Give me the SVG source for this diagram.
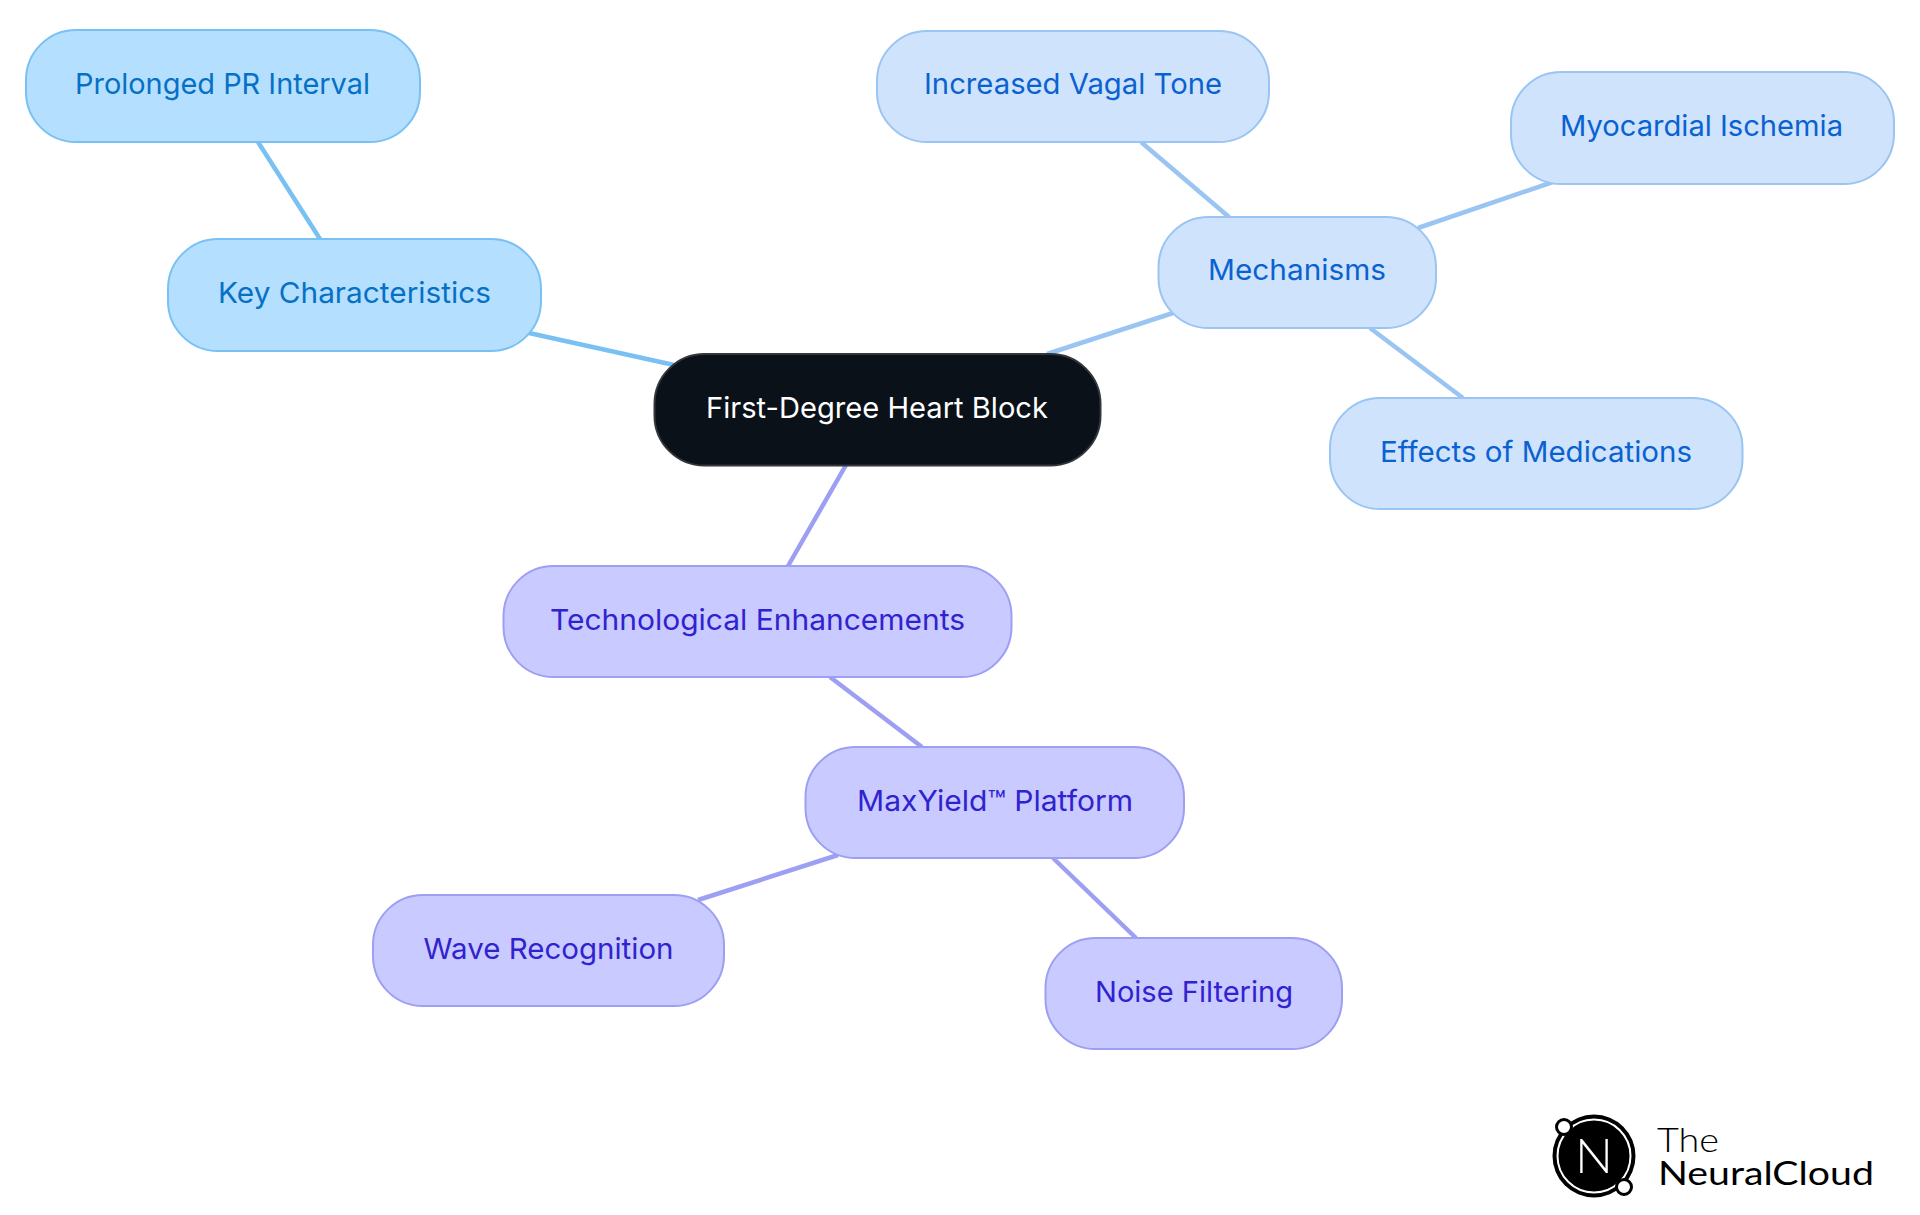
<svg xmlns="http://www.w3.org/2000/svg" width="1920" height="1215" viewBox="0 0 1920 1215">
<style>
text{font-family:"Inter","Noto Sans","Liberation Sans",sans-serif;font-size:29px}
.n{stroke-width:2}
.e{stroke-width:4.5;fill:none;stroke-linecap:butt}
.a rect{fill:#b5dfff;stroke:#79c1f3}.a text{fill:#0671c4}
.b rect{fill:#cfe3fd;stroke:#9ac5f2}.b text{fill:#0a62d0}
.c rect{fill:#c9caff;stroke:#9d9ff2}.c text{fill:#3023cf}
.ea{stroke:#79c1f3}.eb{stroke:#9ac5f2}.ec{stroke:#9d9ff2}
.lg{font-family:Lato,"Noto Sans",sans-serif;font-size:33px}
</style>
<rect width="1920" height="1215" fill="#ffffff"/>
<g id="connectors">
<line class="e ea" x1="529" y1="333" x2="674" y2="365"/>
<line class="e ea" x1="258" y1="142" x2="320" y2="239"/>
<line class="e eb" x1="1047" y1="354" x2="1173" y2="313"/>
<line class="e eb" x1="1141" y1="142" x2="1229" y2="217"/>
<line class="e eb" x1="1418" y1="228" x2="1553" y2="182"/>
<line class="e eb" x1="1370" y1="328" x2="1463" y2="398"/>
<line class="e ec" x1="846" y1="465" x2="788" y2="566"/>
<line class="e ec" x1="830" y1="677" x2="922" y2="747"/>
<line class="e ec" x1="838" y1="855" x2="698" y2="900"/>
<line class="e ec" x1="1053" y1="858" x2="1136" y2="938"/>
</g>
<g id="root"><rect x="654.5" y="354" width="446" height="111.5" rx="50" fill="#0b1119" stroke="#33373d" stroke-width="2"/><text x="706" y="418" textLength="342" lengthAdjust="spacingAndGlyphs" fill="#ffffff">First-Degree Heart Block</text></g>
<g id="key-characteristics" class="a"><rect class="n" x="168" y="239" width="373" height="112" rx="50"/><text x="218" y="303" textLength="273" lengthAdjust="spacingAndGlyphs">Key Characteristics</text></g>
<g id="prolonged-pr" class="a"><rect class="n" x="26" y="30" width="394" height="112" rx="50"/><text x="75" y="94" textLength="295" lengthAdjust="spacingAndGlyphs">Prolonged PR Interval</text></g>
<g id="mechanisms" class="b"><rect class="n" x="1158.5" y="217" width="277.5" height="111" rx="50"/><text x="1208" y="280" textLength="178" lengthAdjust="spacingAndGlyphs">Mechanisms</text></g>
<g id="vagal-tone" class="b"><rect class="n" x="877" y="31" width="392" height="111" rx="50"/><text x="924" y="94" textLength="298" lengthAdjust="spacingAndGlyphs">Increased Vagal Tone</text></g>
<g id="ischemia" class="b"><rect class="n" x="1511" y="72" width="383" height="112" rx="50"/><text x="1560" y="136" textLength="283" lengthAdjust="spacingAndGlyphs">Myocardial Ischemia</text></g>
<g id="medications" class="b"><rect class="n" x="1330" y="398" width="412.5" height="111" rx="50"/><text x="1380" y="462" textLength="312" lengthAdjust="spacingAndGlyphs">Effects of Medications</text></g>
<g id="technological" class="c"><rect class="n" x="503.5" y="566" width="508" height="111" rx="50"/><text x="550" y="630" textLength="415" lengthAdjust="spacingAndGlyphs">Technological Enhancements</text></g>
<g id="maxyield" class="c"><rect class="n" x="805.5" y="747" width="378.5" height="111" rx="50"/><text x="857" y="811" textLength="276" lengthAdjust="spacingAndGlyphs">MaxYield™ Platform</text></g>
<g id="wave" class="c"><rect class="n" x="373" y="895" width="351" height="111" rx="50"/><text x="423.5" y="959" textLength="250" lengthAdjust="spacingAndGlyphs">Wave Recognition</text></g>
<g id="noise" class="c"><rect class="n" x="1045.5" y="938" width="296.5" height="111" rx="50"/><text x="1095" y="1002" textLength="198" lengthAdjust="spacingAndGlyphs">Noise Filtering</text></g>
<g id="logo">
<circle cx="1594" cy="1156" r="41.5" fill="#000000"/>
<circle cx="1594" cy="1156" r="36.5" fill="none" stroke="#ffffff" stroke-width="2"/>
<circle cx="1564" cy="1127" r="7.5" fill="#ffffff" stroke="#000000" stroke-width="3"/>
<circle cx="1624" cy="1187" r="7.5" fill="#ffffff" stroke="#000000" stroke-width="3"/>
<text x="1575" y="1173" textLength="38" lengthAdjust="spacingAndGlyphs" class="lg" style="font-size:47px;font-weight:300" fill="#ffffff">N</text>
<text x="1657" y="1152" textLength="62" lengthAdjust="spacingAndGlyphs" class="lg" style="font-weight:300" fill="#000000">The</text>
<text x="1658" y="1185" textLength="216" lengthAdjust="spacingAndGlyphs" class="lg" fill="#000000">NeuralCloud</text>
</g>
</svg>
